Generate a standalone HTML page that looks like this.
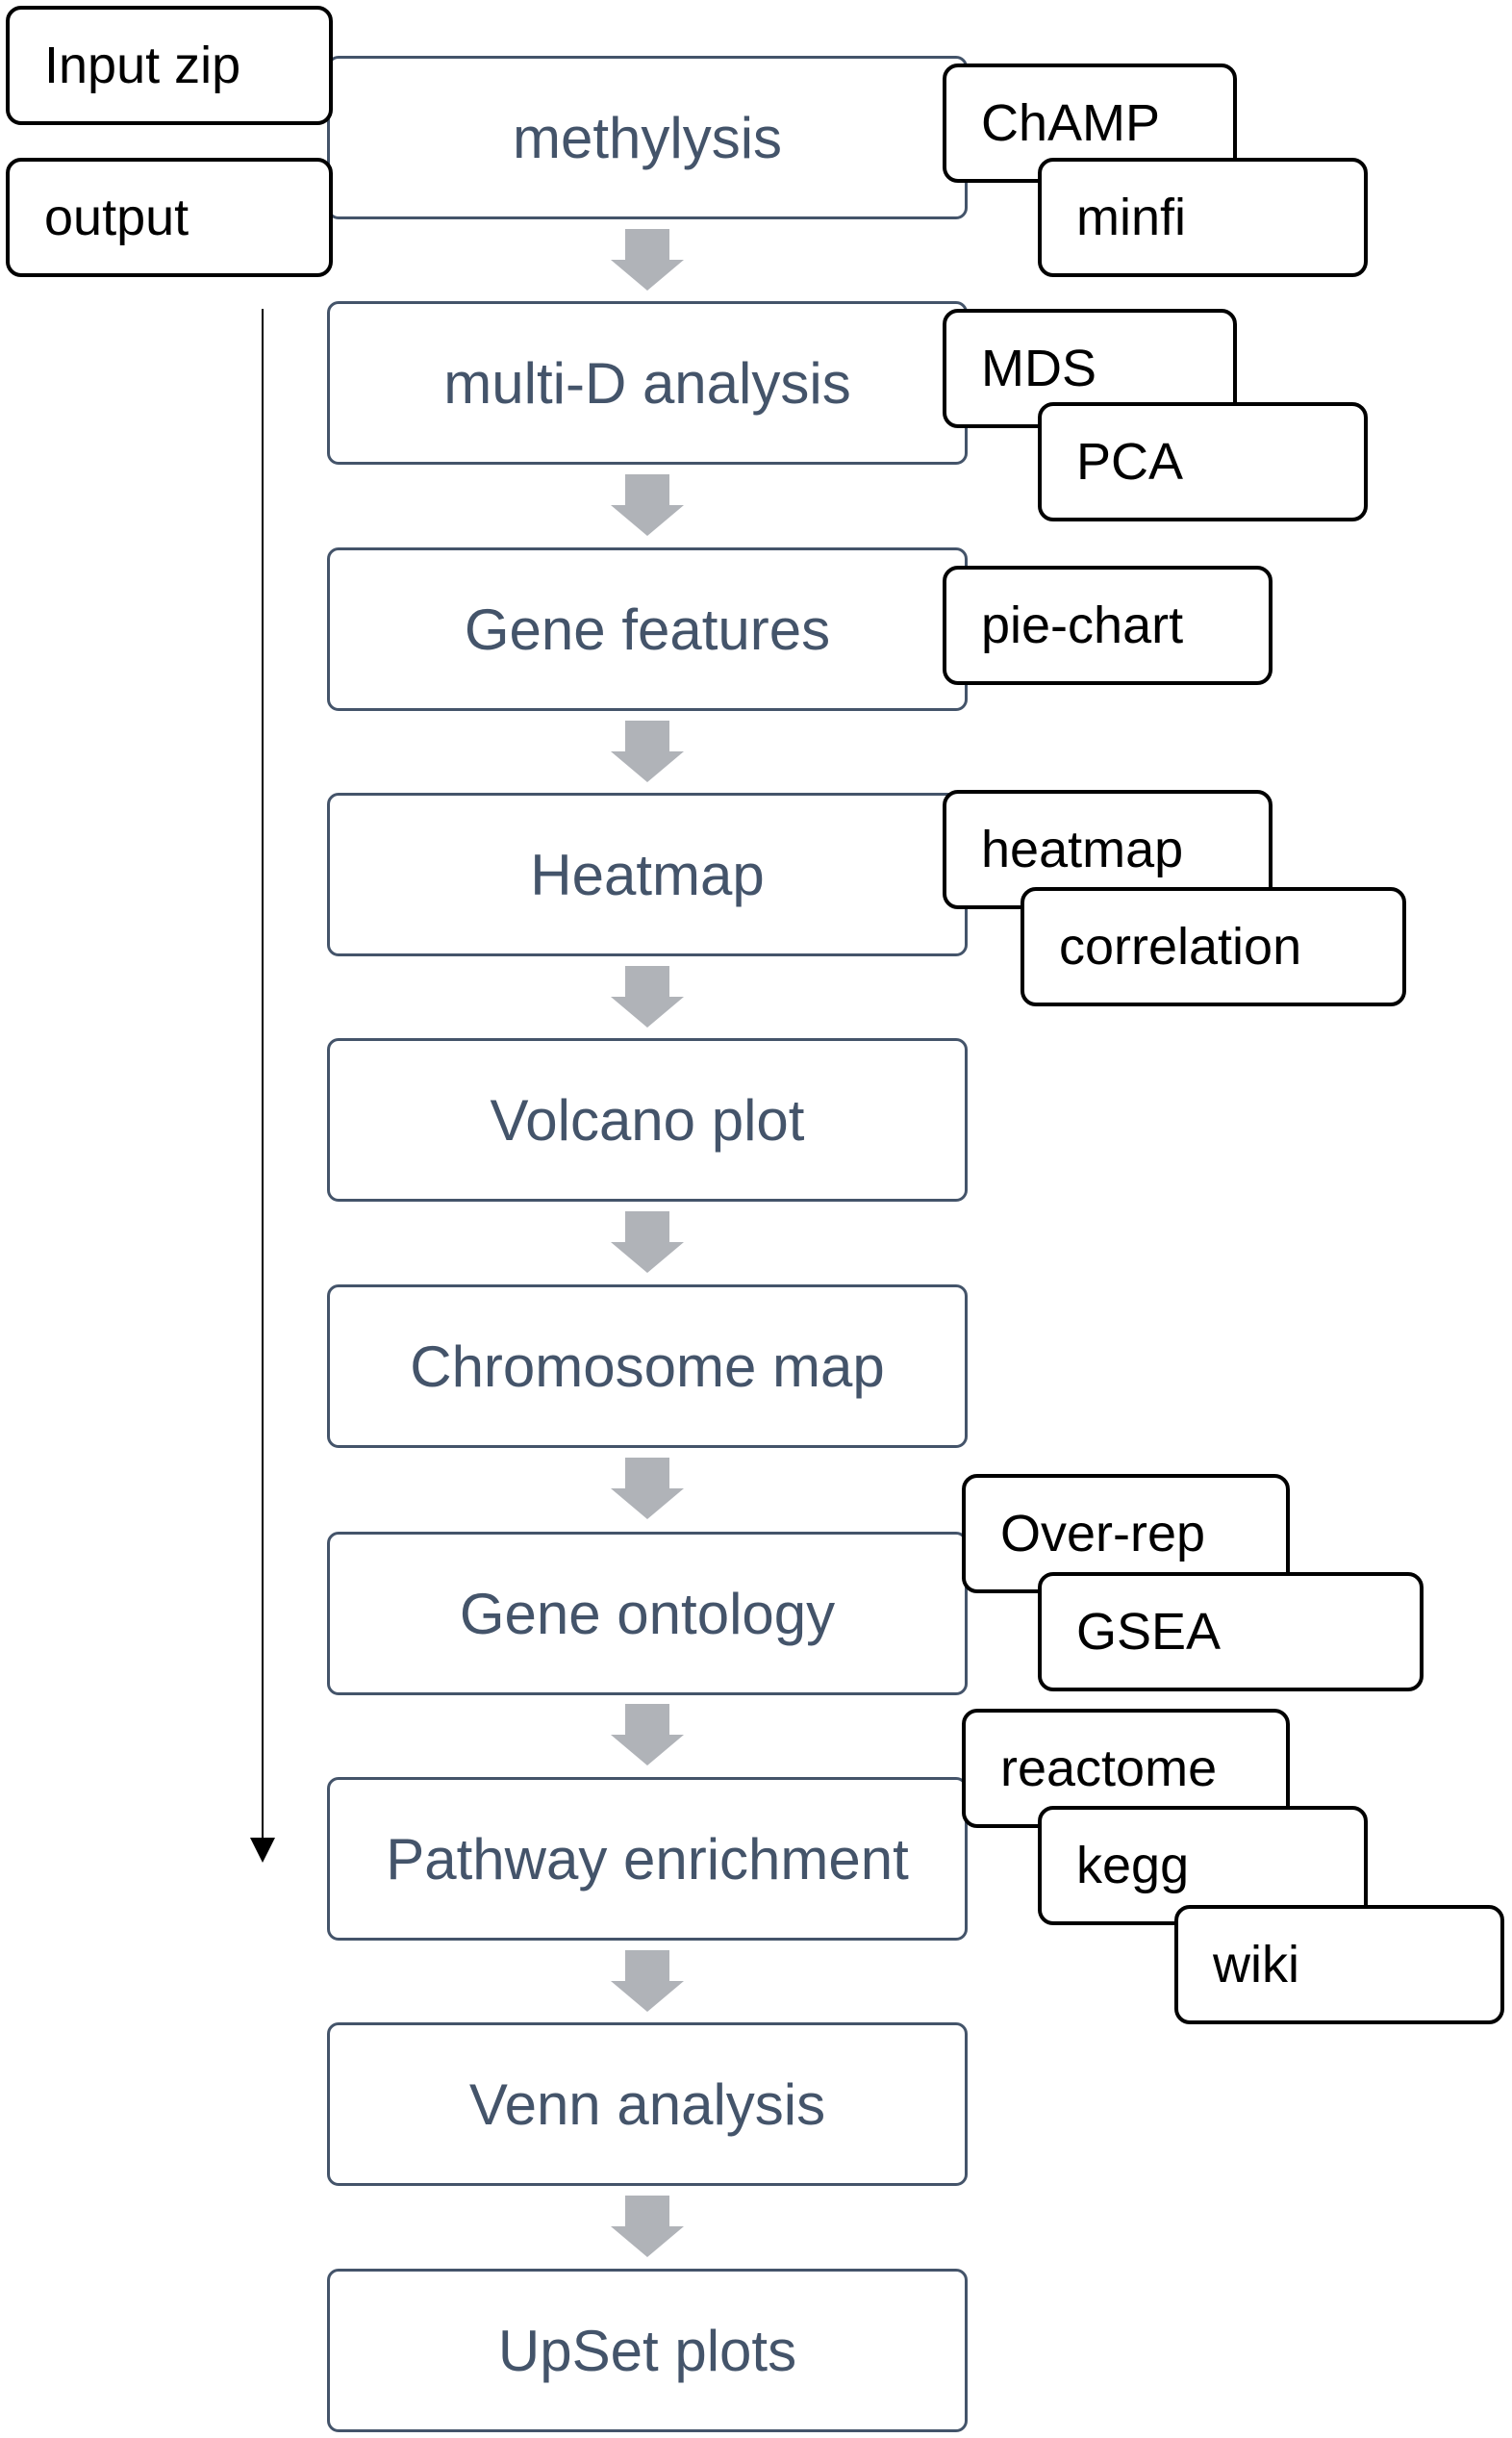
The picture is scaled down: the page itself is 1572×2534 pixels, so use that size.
<!DOCTYPE html>
<html><head><meta charset="utf-8"><style>
body{margin:0;width:1572px;height:2534px;background:#fff;position:relative;overflow:hidden;font-family:"Liberation Sans","DejaVu Sans",sans-serif}
.m{position:absolute;left:340px;width:660px;height:164px;border:3.5px solid #44546a;border-radius:12px;background:#fff;color:#44546a;font-size:60px;display:flex;align-items:center;justify-content:center;box-sizing:content-box}
.s{position:absolute;border:4px solid #000;border-radius:16px;background:#fff;color:#000;font-size:54px;display:flex;align-items:center;padding-left:36px;box-sizing:border-box}
.a{position:absolute;left:635px;width:76px;height:64px}
</style></head><body>
<div class="m" style="top:58px">methylysis</div>
<div class="m" style="top:313px">multi-D analysis</div>
<div class="m" style="top:569px">Gene features</div>
<div class="m" style="top:824px">Heatmap</div>
<div class="m" style="top:1079px">Volcano plot</div>
<div class="m" style="top:1335px">Chromosome map</div>
<div class="m" style="top:1592px">Gene ontology</div>
<div class="m" style="top:1847px">Pathway enrichment</div>
<div class="m" style="top:2102px">Venn analysis</div>
<div class="m" style="top:2358px">UpSet plots</div>

<svg width="1572" height="2534" style="position:absolute;left:0;top:0">
<g fill="#b0b3b8">
<path id="ar" d="M650,238 H696 V270 H711 L673,302 L635,270 H650 Z"/>
<use href="#ar" y="255"/><use href="#ar" y="511"/><use href="#ar" y="766"/><use href="#ar" y="1021"/>
<use href="#ar" y="1277"/><use href="#ar" y="1533"/><use href="#ar" y="1789"/><use href="#ar" y="2044"/>
</g>
<line x1="273" y1="321" x2="273" y2="1915" stroke="#000" stroke-width="2"/>
<path d="M260,1910 L286,1910 L273,1936 Z" fill="#000"/>
</svg>

<div class="s" style="left:6px;top:6px;width:340px;height:124px">Input zip</div>
<div class="s" style="left:6px;top:164px;width:340px;height:124px">output</div>
<div class="s" style="left:980px;top:66px;width:306px;height:124px">ChAMP</div>
<div class="s" style="left:1079px;top:164px;width:343px;height:124px">minfi</div>
<div class="s" style="left:980px;top:321px;width:306px;height:124px">MDS</div>
<div class="s" style="left:1079px;top:418px;width:343px;height:124px">PCA</div>
<div class="s" style="left:980px;top:588px;width:343px;height:124px">pie-chart</div>
<div class="s" style="left:980px;top:821px;width:343px;height:124px">heatmap</div>
<div class="s" style="left:1061px;top:922px;width:401px;height:124px">correlation</div>
<div class="s" style="left:1000px;top:1532px;width:341px;height:124px">Over-rep</div>
<div class="s" style="left:1079px;top:1634px;width:401px;height:124px">GSEA</div>
<div class="s" style="left:1000px;top:1776px;width:341px;height:124px">reactome</div>
<div class="s" style="left:1079px;top:1877px;width:343px;height:124px">kegg</div>
<div class="s" style="left:1221px;top:1980px;width:343px;height:124px">wiki</div>
</body></html>
